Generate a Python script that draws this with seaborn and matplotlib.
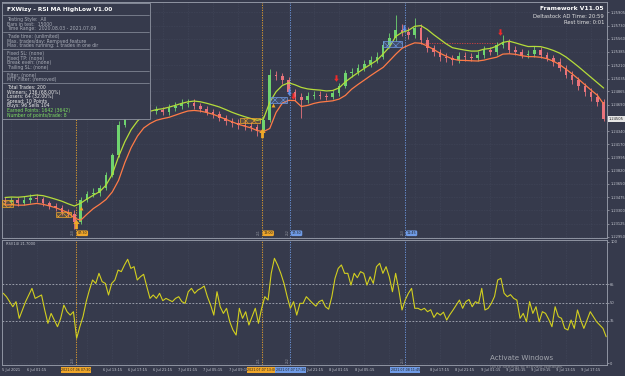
import numpy as np
import pandas as pd
import matplotlib.pyplot as plt
import matplotlib.patches as mpatches
from matplotlib.lines import Line2D
import seaborn as sns

# hourly bars, each bar opens at the previous close
first_open = 1.23430
closes = [1.23411, 1.23437, 1.23397, 1.23437, 1.23463, 1.23450, 1.23397, 1.23358, 1.23332, 1.23279,
          1.23253, 1.23147, 1.23437, 1.23516, 1.23529, 1.23595, 1.23766, 1.24029, 1.24424, 1.24556,
          1.24621, 1.24648, 1.24661, 1.24608, 1.24621, 1.24595, 1.24648, 1.24674, 1.24700, 1.24713,
          1.24674, 1.24634, 1.24595, 1.24569, 1.24516, 1.24477, 1.24450, 1.24424, 1.24411, 1.24398,
          1.24345, 1.24490, 1.25082, 1.25069, 1.25016, 1.24858, 1.24792, 1.24753, 1.24806, 1.24819,
          1.24806, 1.24792, 1.24845, 1.24937, 1.25108, 1.25121, 1.25174, 1.25227, 1.25279, 1.25319,
          1.25477, 1.25569, 1.25674, 1.25650, 1.25608, 1.25700, 1.25543, 1.25437, 1.25385, 1.25319,
          1.25306, 1.25279, 1.25332, 1.25319, 1.25306, 1.25345, 1.25411, 1.25385, 1.25477, 1.25516,
          1.25411, 1.25385, 1.25345, 1.25358, 1.25411, 1.25345, 1.25306, 1.25253, 1.25174, 1.25082,
          1.25016, 1.24937, 1.24858, 1.24792, 1.24727, 1.24505]
highs = [1.2347, 1.2348, 1.2347, 1.2349, 1.2351, 1.2352, 1.2348, 1.2343, 1.2340, 1.2337,
         1.2332, 1.2330, 1.2347, 1.2356, 1.2360, 1.2364, 1.2380, 1.2406, 1.2447, 1.2460,
         1.2468, 1.2470, 1.2472, 1.2470, 1.2467, 1.2466, 1.2470, 1.2473, 1.2476, 1.2477,
         1.2476, 1.2471, 1.2467, 1.2464, 1.2461, 1.2456, 1.2452, 1.2450, 1.2448, 1.2446,
         1.2444, 1.2454, 1.2516, 1.2514, 1.2511, 1.2505, 1.2490, 1.2485, 1.2486, 1.2487,
         1.2487, 1.2485, 1.2489, 1.2498, 1.2515, 1.2518, 1.2523, 1.2528, 1.2533, 1.2538,
         1.2553, 1.2563, 1.2587, 1.2575, 1.2572, 1.2583, 1.2575, 1.2558, 1.2548, 1.2543,
         1.2537, 1.2534, 1.2539, 1.2538, 1.2537, 1.2540, 1.2547, 1.2545, 1.2552, 1.2561,
         1.2556, 1.2546, 1.2543, 1.2541, 1.2546, 1.2545, 1.2539, 1.2535, 1.2530, 1.2522,
         1.2513, 1.2506, 1.2498, 1.2491, 1.2484, 1.2477]
lows = [1.2337, 1.2338, 1.2336, 1.2337, 1.2340, 1.2341, 1.2336, 1.2332, 1.2329, 1.2324,
        1.2321, 1.2305, 1.2312, 1.2341, 1.2347, 1.2349, 1.2357, 1.2374, 1.2400, 1.2440,
        1.2452, 1.2458, 1.2460, 1.2456, 1.2457, 1.2455, 1.2456, 1.2461, 1.2464, 1.2466,
        1.2463, 1.2459, 1.2455, 1.2452, 1.2447, 1.2443, 1.2440, 1.2437, 1.2436, 1.2434,
        1.2428, 1.2431, 1.2446, 1.2501, 1.2496, 1.2482, 1.2474, 1.2451, 1.2471, 1.2476,
        1.2476, 1.2475, 1.2476, 1.2481, 1.2491, 1.2506, 1.2508, 1.2513, 1.2519, 1.2524,
        1.2529, 1.2544, 1.2553, 1.2559, 1.2555, 1.2557, 1.2549, 1.2539, 1.2533, 1.2527,
        1.2525, 1.2522, 1.2524, 1.2527, 1.2526, 1.2526, 1.2530, 1.2534, 1.2535, 1.2544,
        1.2537, 1.2534, 1.2530, 1.2530, 1.2532, 1.2530, 1.2526, 1.2520, 1.2513, 1.2504,
        1.2497, 1.2489, 1.2481, 1.2474, 1.2468, 1.2447]

# RSI, half-hour steps over the same span
rsi = [57.6, 54.8, 50.7, 46.5, 50.7, 36.9, 43.8, 50.7, 56.2, 61.7,
       53.4, 54.8, 56.2, 43.8, 32.8, 41.0, 35.5, 30.0, 36.9, 47.9,
       42.4, 39.6, 42.4, 20.4, 30.0, 38.3, 50.7, 60.3, 68.6, 65.8,
       74.1, 67.2, 65.8, 56.2, 65.8, 68.6, 76.8, 75.5, 81.0, 85.7,
       78.2, 79.6, 68.6, 71.3, 73.3, 63.1, 53.4, 56.2, 53.4, 57.6,
       51.5, 53.4, 52.0, 50.7, 53.4, 54.8, 50.7, 49.3, 58.9, 61.7,
       57.6, 60.3, 61.7, 63.6, 54.8, 47.9, 39.6, 58.9, 46.5, 41.0,
       45.2, 34.1, 27.3, 23.1, 45.2, 36.9, 42.4, 31.4, 38.3, 45.2,
       32.8, 45.2, 54.8, 52.0, 74.1, 86.5, 81.0, 74.1, 65.8, 54.8,
       45.2, 50.7, 39.6, 49.3, 49.3,
       54.8, 52.0, 49.3, 47.0, 50.7, 52.0, 46.5, 44.5, 54.8, 70.0,
       78.2, 81.0, 74.1, 74.1, 64.4, 74.1, 70.5, 75.5, 74.1, 64.4,
       71.3, 65.8, 79.6, 82.4, 74.1, 79.6, 71.3, 58.9, 74.1, 60.3,
       43.8, 52.0, 57.6, 61.7, 45.2, 45.2, 43.8, 45.2, 42.4, 44.0,
       37.7, 41.5, 39.6, 42.0, 35.5, 40.0, 43.8, 47.9, 52.0, 45.2,
       50.7, 52.5, 46.5, 50.7, 49.3, 61.7, 43.8, 45.2, 49.3, 55.0,
       68.6, 70.0, 57.6, 54.8, 56.5, 53.4, 52.0, 36.9, 41.0, 34.1,
       50.7, 41.0, 46.5, 34.1, 42.4, 41.0, 36.0, 30.0, 46.5, 38.3,
       36.9, 28.6, 27.3, 35.5, 28.6, 43.8, 35.5, 28.6, 35.5, 42.4,
       38.3, 34.1, 31.4, 28.6, 21.7]

price_ticks = [1.22950, 1.23125, 1.23300, 1.23475, 1.23650, 1.23820, 1.23995, 1.24170, 1.24340,
               1.24515, 1.24690, 1.24865, 1.25035, 1.25210, 1.25385, 1.25560, 1.25730, 1.25905]
rsi_ticks = [0, 35, 50, 65, 100]
rsi_levels = [35, 50, 65]

time_labels = ["5 Jul 2021", "6 Jul 01:15", "6 Jul 05:15", "6 Jul 09:15", "6 Jul 13:15", "6 Jul 17:15",
               "6 Jul 21:15", "7 Jul 01:15", "7 Jul 05:15", "7 Jul 09:15", "7 Jul 13:15", "7 Jul 17:15",
               "7 Jul 21:15", "8 Jul 01:15", "8 Jul 05:15", "8 Jul 09:15", "8 Jul 13:15", "8 Jul 17:15",
               "8 Jul 21:15", "9 Jul 01:15", "9 Jul 05:15", "9 Jul 09:15", "9 Jul 13:15", "9 Jul 17:15"]

# trades
event_times = ["2021-07-06 07:30", "2021-07-07 13:00", "2021-07-07 17:30", "2021-07-08 11:45"]
event_kind = ["buy", "buy", "sell", "sell"]
event_tags = ["07:30", "13:00", "17:30", "11:45"]
event_ids = ["250", "251", "252", "253"]

buy_times = ["2021-07-06 07:30", "2021-07-07 13:00"]
buy_prices = [1.23115, 1.24320]
pend_times = ["2021-07-06 08:15", "2021-07-07 14:45"]
pend_prices = [1.23332, 1.24687]
red_times = ["2021-07-07 18:00", "2021-07-08 00:45", "2021-07-09 02:45"]
red_prices = [1.24806, 1.25042, 1.25650]
blue_times = ["2021-07-07 17:15", "2021-07-08 11:30"]
blue_prices = [1.24858, 1.25700]

zone_start = ["2021-07-05 19:45", "2021-07-06 04:15", "2021-07-07 09:30", "2021-07-07 14:15", "2021-07-08 08:15"]
zone_end = ["2021-07-05 21:30", "2021-07-06 06:45", "2021-07-07 12:45", "2021-07-07 17:00", "2021-07-08 11:15"]
zone_low = [1.23345, 1.23213, 1.24450, 1.24713, 1.25450]
zone_high = [1.23437, 1.23279, 1.24516, 1.24792, 1.25529]
zone_kind = ["buy", "buy", "buy", "sell", "sell"]

stop_start, stop_end, stop_price = "2021-07-08 14:00", "2021-07-09 03:30", 1.25503

info_title = "FXWizy - RSI MA HighLow V1.00"
info_sections = [
    ["Testing Style:  All", "Bars in test:  15000", "Time Range:  2020.08.03 - 2021.07.09"],
    ["Trade time: (unlimited)", "Max. trades/day: Removed feature",
     "Max. trades running: 1 trades in one dir"],
    ["Fixed SL: (none)", "Fixed TP: (none)", "Break even: (none)", "Trailing SL: (none)"],
    ["Filter: (none)", "MTF-Filter: (removed)"],
    ["Total Trades: 200", "Winners: 136 (68.00%)", "Losers: 64 (32.00%)", "Spread: 10 Points",
     "Buys: 96 Sells 104", "Earned Points: 1642 (3642)", "Number of points/trade: 8"],
]

BG = "#363a4c"
GRID = "#4b5064"
FRAME = "#8f94a2"
TXT = "#c3c6cf"
KIND_COL = {"buy": "#efa62a", "sell": "#6f9be6"}

sns.set_theme(style="dark", rc={"axes.facecolor": BG, "figure.facecolor": BG})
plt.rcParams["font.family"] = ["DejaVu Sans"]
plt.rcParams["hatch.linewidth"] = 0.4

t0 = pd.Timestamp("2021-07-05 19:45")


def hrs(ts):
    return (pd.Timestamp(ts) - t0) / pd.Timedelta(hours=1)


n = len(closes)
bars = pd.DataFrame({"t": np.arange(n) + 0.5, "open": [first_open] + closes[:-1],
                     "close": closes, "high": highs, "low": lows})
bars["ma_high"] = bars["high"].ewm(span=5).mean()
bars["ma_low"] = bars["low"].ewm(span=5).mean()
up = bars["close"] >= bars["open"]
col = np.where(up, "#6fd46f", "#e8737c")

W, H = 625, 376
fig = plt.figure(figsize=(W / 100, H / 100), dpi=100)


def fbox(x0, y0, x1, y1):
    return [x0 / W, 1 - y1 / H, (x1 - x0) / W, (y1 - y0) / H]


ax = fig.add_axes(fbox(2, 2, 607, 238))
ax2 = fig.add_axes(fbox(2, 240, 607, 365), sharex=ax)

# candles + high/low averages
ax.vlines(bars["t"], bars["low"], bars["high"], colors=col, lw=0.6, zorder=3)
ax.bar(bars["t"], (bars["close"] - bars["open"]).abs().clip(lower=0.00003),
       bottom=bars[["open", "close"]].min(axis=1), width=0.4, color=col, lw=0, zorder=4)
sns.lineplot(data=bars, x="t", y="ma_high", ax=ax, color="#b5dc3a", lw=0.9, zorder=5)
sns.lineplot(data=bars, x="t", y="ma_low", ax=ax, color="#ff7b47", lw=0.9, zorder=5)

# trade zones and markers
for s, e, lo, hi, k in zip(zone_start, zone_end, zone_low, zone_high, zone_kind):
    ax.add_patch(mpatches.Rectangle((hrs(s), lo), hrs(e) - hrs(s), hi - lo, hatch="xxxx",
                                    facecolor=(*plt.matplotlib.colors.to_rgb(KIND_COL[k]), 0.2),
                                    edgecolor=KIND_COL[k], lw=0.5, zorder=6))
ax.plot([hrs(stop_start), hrs(stop_end)], [stop_price, stop_price], color="#d84040",
        lw=0.6, ls=(0, (1.5, 1.5)), zorder=2)

arrow_up = [(0, 1), (-0.7, 0.1), (-0.3, 0.1), (-0.3, -1), (0.3, -1), (0.3, 0.1), (0.7, 0.1), (0, 1)]
arrow_dn = [(x, -y) for x, y in arrow_up]
ax.scatter([hrs(t) for t in buy_times], buy_prices, marker=arrow_up, s=45, color="#f0a828", lw=0, zorder=7)
ax.scatter([hrs(t) for t in pend_times], pend_prices, marker="^", s=8, color="#f0a828", lw=0, zorder=7)
ax.scatter([hrs(t) for t in red_times], red_prices, marker=arrow_dn, s=22, color="#ee2a2a", lw=0, zorder=7)
ax.scatter([hrs(t) for t in blue_times], blue_prices, marker=arrow_dn, s=22, color="#5f8fe8", lw=0, zorder=7)

# RSI pane
rsi_t = np.linspace(0.2, 95.9, len(rsi))
sns.lineplot(x=rsi_t, y=rsi, ax=ax2, color="#d2cf1f", lw=0.8, zorder=4)
for lv in rsi_levels:
    ax2.axhline(lv, color="#a9adb8", lw=0.6, ls=(0, (2, 2)), zorder=2)
ax2.text(0.006, 0.985, f"RSI(14) {rsi[-1]:.4f}", transform=ax2.transAxes, ha="left", va="top",
         fontsize=2.6, color=TXT)

# trade time lines, tags and axis boxes
for t, k, tag, tid in zip(event_times, event_kind, event_tags, event_ids):
    c = KIND_COL[k]
    for a in (ax, ax2):
        a.axvline(hrs(t), color=c, lw=0.6, ls=(0, (1.5, 1.5)), zorder=2)
    ax.text(hrs(t) + 0.25, 0.02, tag, transform=ax.get_xaxis_transform(), ha="left", va="center",
            fontsize=2.4, color="#202020",
            bbox=dict(boxstyle="round,pad=0.25,rounding_size=0.4", fc=c, ec="none"), zorder=8)
    for a, yy in ((ax, 0.025), (ax2, 0.04)):
        a.text(hrs(t) - 0.45, yy, tid, transform=a.get_xaxis_transform(), rotation=90,
               ha="center", va="center", fontsize=2.2, color="#9a9ea8", zorder=8)
    ax2.text(hrs(t), -0.04, pd.Timestamp(t).strftime("%Y.%m.%d %H:%M"),
             transform=ax2.get_xaxis_transform(), ha="center", va="center", fontsize=2.35,
             color="#1e1e1e", bbox=dict(boxstyle="square,pad=0.2", fc=c, ec="none"),
             zorder=10, clip_on=False)

# axes styling; time labels sitting under a trade-time box are covered by it
tick_times = pd.date_range("2021-07-05 21:15", periods=len(time_labels), freq="4h")
tick_pos = [hrs(t) for t in tick_times]
covered = [any(abs(p - hrs(e)) < 3.0 for e in event_times) for p in tick_pos]
ax2.set_xticks(tick_pos)
ax2.set_xticklabels(["" if cv else lab for lab, cv in zip(time_labels, covered)])
ax.set_xlim(0, 96.03)
ax.set_ylim(1.229368, 1.260426)
ax.set_yticks(price_ticks)
ax.set_yticklabels([f"{p:.5f}" for p in price_ticks])
ax2.set_ylim(-1.65, 101.65)
ax2.set_yticks(rsi_ticks)
ax2.set_yticklabels([str(v) for v in rsi_ticks])

for a in (ax, ax2):
    a.set_xlabel("")
    a.set_ylabel("")
    a.grid(True, color=GRID, lw=0.4, ls=(0, (1, 2)))
    a.yaxis.tick_right()
    a.tick_params(axis="y", right=True, left=False, labelright=True, labelleft=False,
                  labelsize=2.6, colors=TXT, length=1.5, width=0.4, pad=0.8)
    for sp in a.spines.values():
        sp.set_color(FRAME)
        sp.set_linewidth(0.7)
ax.tick_params(axis="x", bottom=False, labelbottom=False)
ax2.tick_params(axis="x", labelsize=2.6, colors=TXT, length=0, pad=2.0)

last = closes[-1]
ax.text(1.003, last, f"{last:.5f}", transform=ax.get_yaxis_transform(), ha="left", va="center",
        fontsize=2.6, color="#202020", bbox=dict(boxstyle="square,pad=0.3", fc="#e6e6e6", ec="none"),
        clip_on=False, zorder=10)

# info panel
fx = lambda x: x / W
fy = lambda y: 1 - y / H
fig.add_artist(mpatches.Rectangle((fx(2), fy(119)), 148 / W, 116 / H, transform=fig.transFigure,
                                  fc=BG, ec=FRAME, lw=0.6, zorder=20))
fig.text(fx(7), fy(9), info_title, ha="left", va="center", fontsize=4.2, weight="bold",
         color="white", zorder=22)
y = 15.0
for si, sec in enumerate(info_sections):
    fig.add_artist(Line2D([fx(3), fx(149)], [fy(y), fy(y)], transform=fig.transFigure,
                          color=FRAME, lw=0.5, zorder=21))
    for li, line in enumerate(sec):
        y += 4.6
        if si < 4:
            c = "#a9adb8"
        elif li < 5:
            c = "#ececec"
        else:
            c = "#7ddc62"
        fig.text(fx(7), fy(y), line, ha="left", va="center", fontsize=3.3, color=c, zorder=22)
    y += 3.2

fig.text(fx(604), fy(8), "Framework V11.05", ha="right", va="center", fontsize=4.3,
         weight="bold", color="white", zorder=22)
fig.text(fx(604), fy(16), "Deltastock AD Time: 20:59", ha="right", va="center", fontsize=3.8,
         color="#e2e2e2", zorder=22)
fig.text(fx(604), fy(23), "Rest time: 0:01", ha="right", va="center", fontsize=3.8,
         color="#e2e2e2", zorder=22)

fig.text(fx(490), fy(358), "Activate Windows", ha="left", va="center", fontsize=5.1,
         color="#a2a5ad", zorder=22)
fig.text(fx(490), fy(367), "Go to Settings to activate Windows.", ha="left", va="center",
         fontsize=3.0, color="#8c8f98", zorder=22)

fig.savefig("out.png", dpi=100, facecolor=BG)
